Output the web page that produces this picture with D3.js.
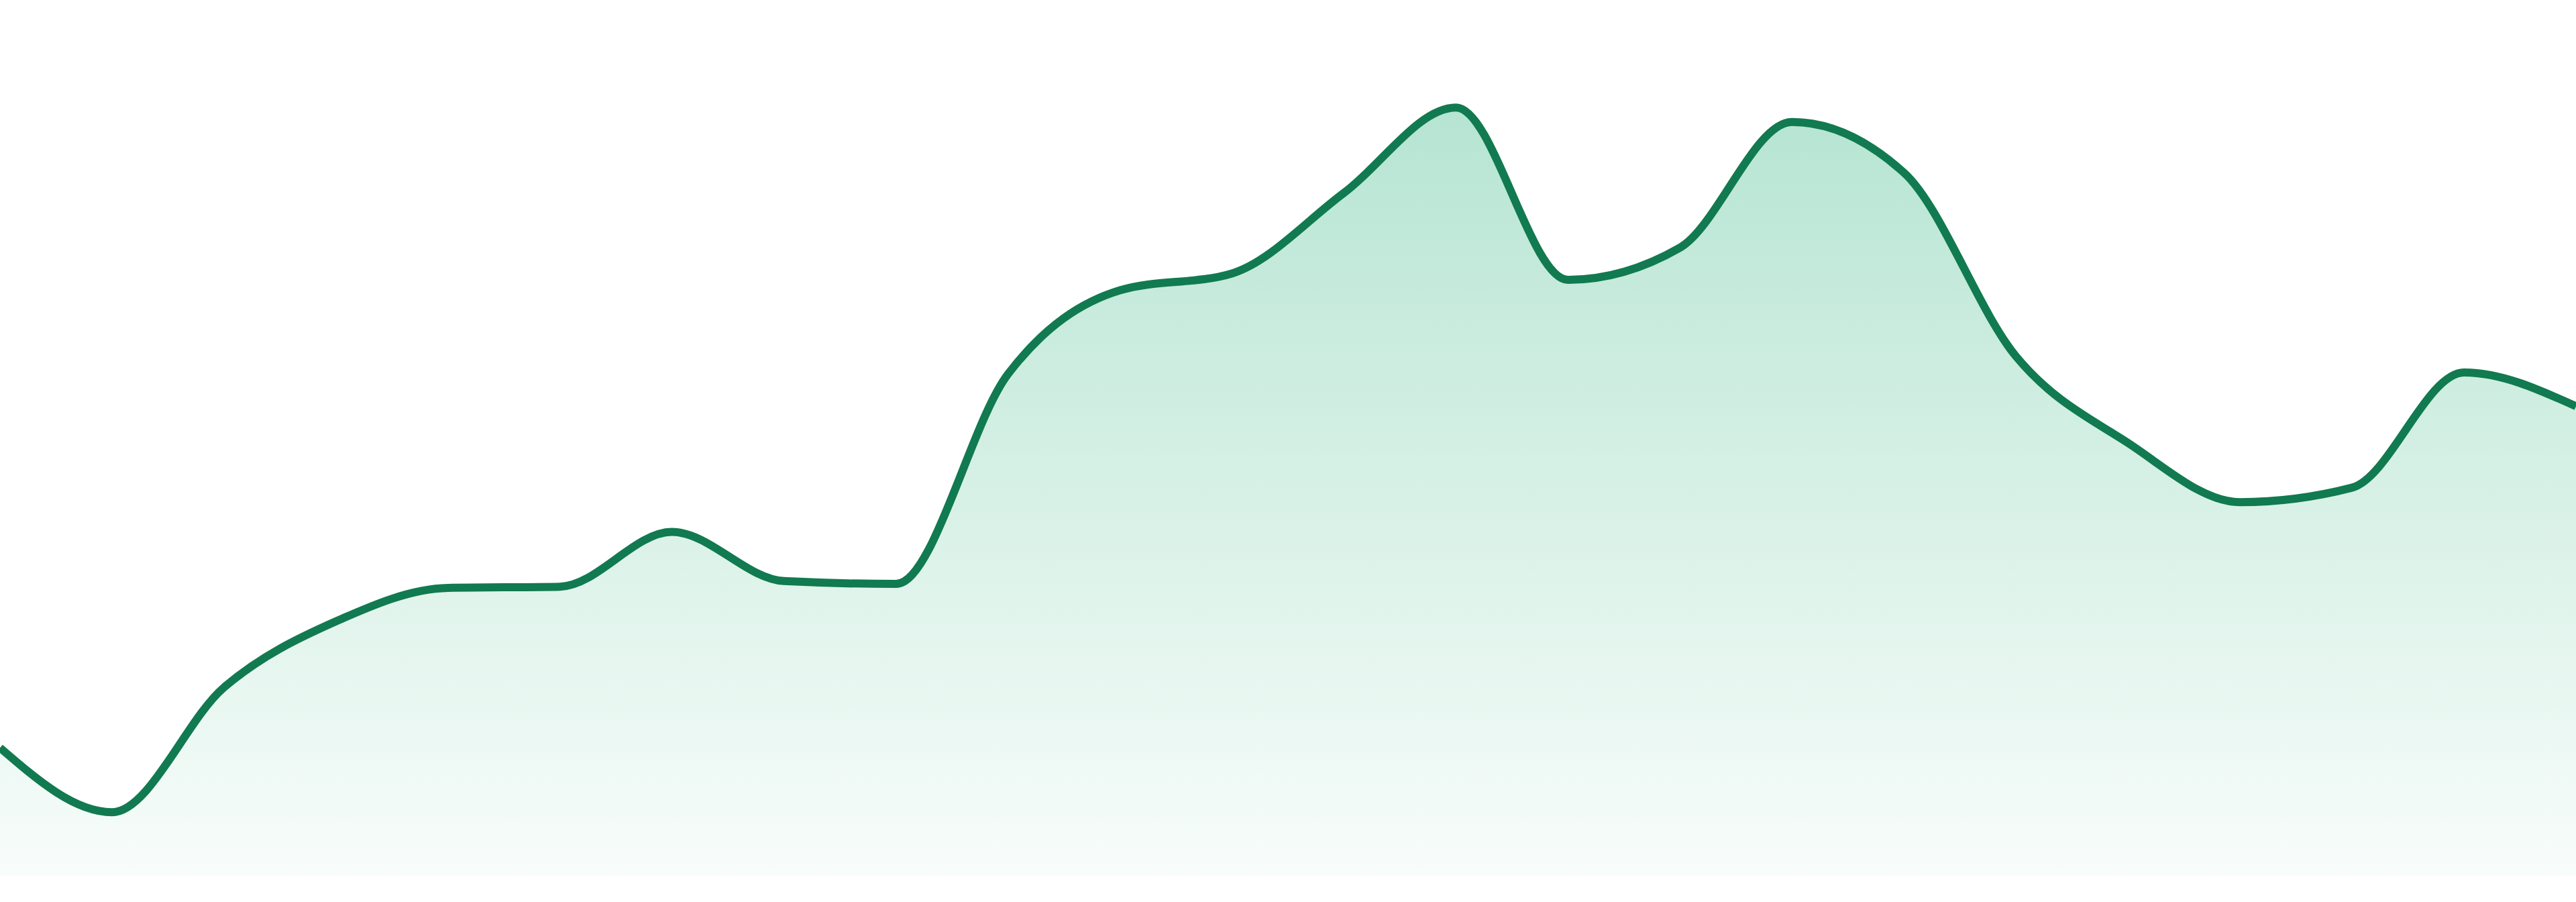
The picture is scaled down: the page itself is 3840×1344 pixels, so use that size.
<!DOCTYPE html>
<html>
<head>
<meta charset="utf-8">
<script src="https://cdn.jsdelivr.net/npm/d3@7"></script>
<style>
  html, body { margin: 0; padding: 0; background: #fff; }
  svg { display: block; }
</style>
</head>
<body>
<svg id="chart" width="3840" height="1344"></svg>
<script>
(function (d3) {
  'use strict'

  // one point per period, no axis labels shown in the picture
  const periods = d3.range(24)
  const values = [
    15.9, 7.9, 23.4, 31.6, 35.75, 35.9, 42.7, 36.6, 36.25, 62.3, 72.7, 74.8,
    84.8, 95.4, 74.0, 78.0, 93.6, 87.3, 64.5, 53.75, 46.4, 48.2, 62.5, 58.3]

  const width = 3840

  const x = d3.scaleLinear().domain([0, periods.length - 1]).range([0, width])
  const y = d3.scaleLinear().domain([0, 100]).range([1305, 105])

  const svg = d3.select('#chart')

  // vertical fade under the line
  const grad = svg.append('defs').
    append('linearGradient').
    attr('id', 'fade').
    attr('x1', 0).attr('y1', 0).
    attr('x2', 0).attr('y2', 1)
  grad.append('stop').attr('offset', '0%').
    attr('stop-color', '#14aa6e').attr('stop-opacity', 0.31)
  grad.append('stop').attr('offset', '100%').
    attr('stop-color', '#14aa6e').attr('stop-opacity', 0.03)

  const area = d3.area().
    curve(d3.curveMonotoneX).
    x(function (d, i) { return x(periods[i]) }).
    y0(y(0)).
    y1(function (d) { return y(d) })

  const line = d3.line().
    curve(d3.curveMonotoneX).
    x(function (d, i) { return x(periods[i]) }).
    y(function (d) { return y(d) })

  svg.append('path').
    datum(values).
    attr('d', area).
    attr('fill', 'url(#fade)')

  svg.append('path').
    datum(values).
    attr('d', line).
    attr('fill', 'none').
    attr('stroke', '#117a50').
    attr('stroke-width', 12).
    attr('stroke-linejoin', 'round')
}(d3))
</script>
</body>
</html>
